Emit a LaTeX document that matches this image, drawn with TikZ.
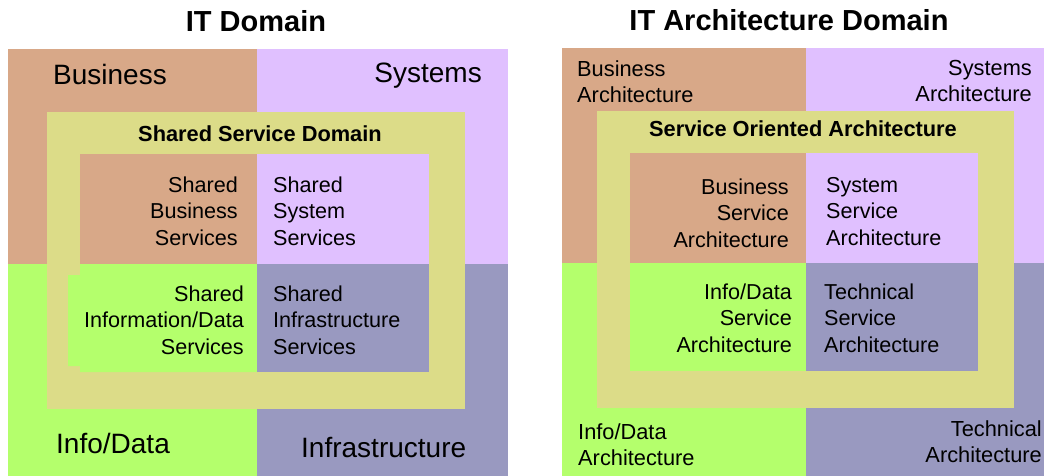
\documentclass[tikz,border=0pt]{standalone}
\usepackage{fontspec}
\setmainfont{Liberation Sans}
\usetikzlibrary{positioning}
\definecolor{bizcol}{HTML}{D8A888}
\definecolor{syscol}{HTML}{E0C0FF}
\definecolor{infocol}{HTML}{B4FF6C}
\definecolor{infracol}{HTML}{9999C0}
\definecolor{ringcol}{HTML}{DCDC88}
\tikzset{
    title/.style = {font=\fontsize{29}{34}\selectfont\bfseries, inner sep=0pt},
    ringlabel/.style = {font=\fontsize{21.8}{26}\selectfont\bfseries, inner sep=0pt},
    biglabel/.style = {font=\fontsize{28}{32}\selectfont, inner sep=0pt},
    outerlabel/.style = {font=\fontsize{21.8}{26}\selectfont, inner sep=0pt},
    innerlabel/.style = {font=\fontsize{21.6}{26.5}\selectfont, inner sep=0pt}}

\begin{document}
\begin{tikzpicture}[x=1pt,y=-1pt]
        \useasboundingbox (0,0) rectangle (1044,476);
        % IT domain
        \fill[bizcol] (8,49) rectangle (257,264);
        \fill[syscol] (257,49) rectangle (508,264);
        \fill[infocol] (8,264) rectangle (257,476);
        \fill[infracol] (257,264) rectangle (508,476);
        \fill[ringcol] (47,112) rectangle (465,409);
        \fill[bizcol] (80,154) rectangle (257,264);
        \fill[syscol] (257,154) rectangle (429,264);
        \fill[infocol] (80,264) rectangle (257,372) (68,275) rectangle (80,366);
        \fill[infracol] (257,264) rectangle (429,372);
        \node[title, anchor=base] (itdom) at (256,32) {IT Domain};
        \node[biglabel, anchor=base west] (biz) at (53,85) {Business};
        \node[biglabel, anchor=base east] (sys) at (482,83) {Systems};
        \node[biglabel, anchor=base west] (info) at (56,453) {Info/Data};
        \node[biglabel, anchor=base west] (infra) at (301,457) {Infrastructure};
        \node[ringlabel, anchor=base] (ssd) at (260,142) {Shared Service Domain};
        \node[innerlabel, anchor=base east, align=right] (sbiz) at (238,245) {Shared\\Business\\Services};
        \node[innerlabel, anchor=base west, align=left] (ssys) at (273,245) {Shared\\System\\Services};
        \node[innerlabel, anchor=base east, align=right] (sinfo) at (244,354) {Shared\\Information/Data\\Services};
        \node[innerlabel, anchor=base west, align=left] (sinfra) at (273,354) {Shared\\Infrastructure\\Services};
        % IT architecture domain
        \fill[bizcol] (562,48) rectangle (806,263);
        \fill[syscol] (806,48) rectangle (1044,263);
        \fill[infocol] (562,263) rectangle (806,476);
        \fill[infracol] (806,263) rectangle (1044,476);
        \fill[ringcol] (597,111) rectangle (1014,408);
        \fill[bizcol] (630,153) rectangle (806,263);
        \fill[syscol] (806,153) rectangle (978,263);
        \fill[infocol] (630,263) rectangle (806,371);
        \fill[infracol] (806,263) rectangle (978,371);
        \node[title, anchor=base] (itarch) at (789,31) {IT Architecture Domain};
        \node[outerlabel, anchor=base west, align=left] (bizarch) at (577,103) {Business\\Architecture};
        \node[outerlabel, anchor=base east, align=right] (sysarch) at (1032,102) {Systems\\Architecture};
        \node[outerlabel, anchor=base west, align=left] (infoarch) at (578,465) {Info/Data\\Architecture};
        \node[outerlabel, anchor=base east, align=right] (techarch) at (1042,462) {Technical\\Architecture};
        \node[ringlabel, anchor=base] (soa) at (803,137) {Service Oriented Architecture};
        \node[innerlabel, anchor=base east, align=right] (bsa) at (789,247) {Business\\Service\\Architecture};
        \node[innerlabel, anchor=base west, align=left] (ssa) at (826,245) {System\\Service\\Architecture};
        \node[innerlabel, anchor=base east, align=right] (isa) at (792,352) {Info/Data\\Service\\Architecture};
        \node[innerlabel, anchor=base west, align=left] (tsa) at (824,352) {Technical\\Service\\Architecture};
\end{tikzpicture}
\end{document}
